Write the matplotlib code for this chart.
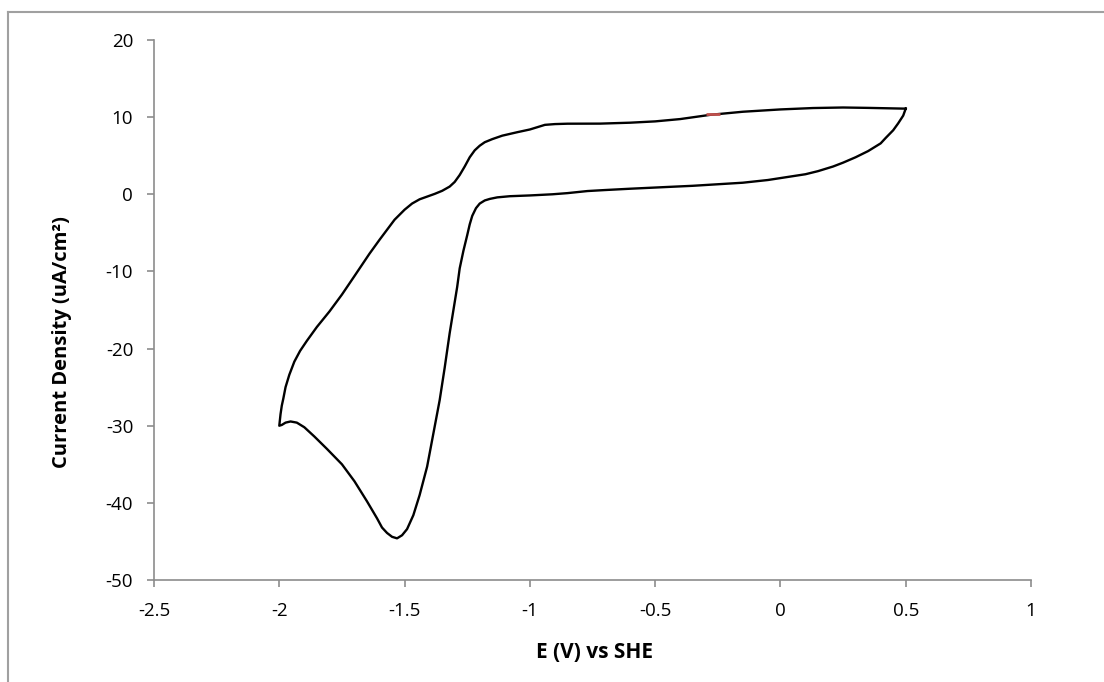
import matplotlib
matplotlib.use("Agg")
import matplotlib.pyplot as plt
from matplotlib.lines import Line2D

plt.rcParams['font.family'] = ['Open Sans', 'DejaVu Sans']
plt.rcParams['axes.unicode_minus'] = False

# potential (V vs SHE) and current density (uA/cm2), read along the loop
potential = [0.50, 0.49, 0.47, 0.45, 0.42, 0.40, 0.35, 0.30, 0.25, 0.21, 0.15, 0.10,
             0.0, -0.05, -0.15, -0.25, -0.35, -0.45, -0.60, -0.70, -0.77, -0.85,
             -0.91, -1.0, -1.08, -1.13, -1.16, -1.18, -1.20, -1.215, -1.23, -1.24,
             -1.25, -1.265, -1.28, -1.29, -1.305, -1.32, -1.34, -1.36, -1.385, -1.41,
             -1.44, -1.465, -1.49, -1.51, -1.53, -1.55, -1.57, -1.59, -1.61, -1.65,
             -1.70, -1.75, -1.81, -1.86, -1.90, -1.93, -1.955, -1.975, -1.99, -2.0,
             -1.995, -1.99, -1.984, -1.975, -1.96, -1.94, -1.917, -1.89, -1.85, -1.80,
             -1.75, -1.70, -1.64, -1.60, -1.57, -1.54, -1.50, -1.47, -1.44, -1.41,
             -1.38, -1.35, -1.32, -1.30, -1.28, -1.26, -1.24, -1.22, -1.20, -1.18,
             -1.15, -1.11, -1.05, -1.0, -0.97, -0.94, -0.90, -0.85, -0.72, -0.60,
             -0.50, -0.40, -0.28, -0.15, 0.0, 0.13, 0.25, 0.35, 0.50]
current = [11.1, 10.2, 9.2, 8.3, 7.3, 6.6, 5.6, 4.8, 4.1, 3.6, 3.0, 2.6,
           2.1, 1.85, 1.5, 1.3, 1.1, 0.95, 0.72, 0.55, 0.42, 0.15,
           0.0, -0.15, -0.25, -0.4, -0.6, -0.8, -1.2, -1.8, -2.8, -3.9,
           -5.3, -7.3, -9.6, -12.0, -15.0, -18.0, -22.5, -26.7, -31.0, -35.3,
           -39.0, -41.6, -43.4, -44.2, -44.6, -44.4, -43.9, -43.2, -42.0, -39.8,
           -37.2, -35.0, -33.0, -31.4, -30.2, -29.6, -29.45, -29.6, -29.9, -30.0,
           -28.5, -27.4, -26.5, -25.0, -23.4, -21.7, -20.3, -19.0, -17.2, -15.2,
           -13.0, -10.6, -7.7, -5.9, -4.6, -3.3, -2.0, -1.2, -0.65, -0.3,
           0.05, 0.45, 1.0, 1.6, 2.5, 3.6, 4.8, 5.7, 6.3, 6.75,
           7.15, 7.6, 8.05, 8.4, 8.7, 9.0, 9.1, 9.15, 9.16, 9.28,
           9.45, 9.75, 10.3, 10.7, 11.0, 11.18, 11.25, 11.2, 11.1]

# second series, one small red point
red_potential = [-0.27]
red_current = [10.35]

fig = plt.figure(figsize=(11.04, 6.82), dpi=100)
ax = fig.add_axes([154/1104, 1 - 580/682, (1031 - 154)/1104, (580 - 40)/682])

ax.plot(potential, current, color='black', lw=1.7, solid_joinstyle='round')
ax.plot(red_potential, red_current, marker='_', color='#c0504d', ms=10, mew=2, ls='none')

ax.set_xlim(-2.5, 1)
ax.set_ylim(-50, 20)
ax.set_xticks([-2.5, -2, -1.5, -1, -0.5, 0, 0.5, 1])
ax.set_xticklabels(['-2.5', '-2', '-1.5', '-1', '-0.5', '0', '0.5', '1'])
ax.set_yticks([-50, -40, -30, -20, -10, 0, 10, 20])

for s in ['top', 'right']:
    ax.spines[s].set_visible(False)
for s in ['left', 'bottom']:
    ax.spines[s].set_color('#8c8c8c')
    ax.spines[s].set_linewidth(1.2)
ax.tick_params(direction='out', length=5, width=1.2, color='#8c8c8c',
               labelsize=13.5, labelcolor='black')
ax.tick_params(axis='x', pad=11)
ax.tick_params(axis='y', pad=10)

# axis titles placed like the Excel chart
fig.text(595/1104, 1 - 652/682, 'E (V) vs SHE', fontsize=15, fontweight='bold',
         ha='center', va='center')
fig.text(62/1104, 1 - 342/682, 'Current Density (uA/cm²)', fontsize=14.5,
         fontweight='bold', rotation=90, ha='center', va='center')

# chart area border (cut off at right and bottom)
fig.add_artist(Line2D([8/1104, 1], [1 - 12/682, 1 - 12/682], color='#a0a0a0', lw=1.5,
                      transform=fig.transFigure))
fig.add_artist(Line2D([8/1104, 8/1104], [0, 1 - 12/682], color='#a0a0a0', lw=1.5,
                      transform=fig.transFigure))

fig.savefig('out.png', dpi=100)
